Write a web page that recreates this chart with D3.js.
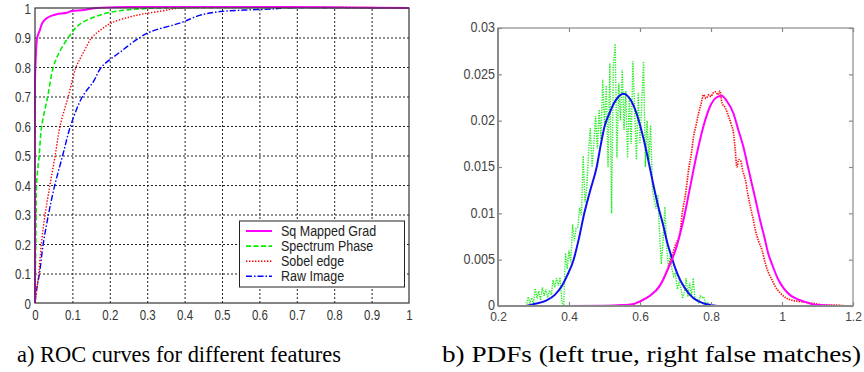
<!DOCTYPE html>
<html><head><meta charset="utf-8">
<script src="https://cdn.jsdelivr.net/npm/d3@7"></script>
<style>body{margin:0;background:#fff}svg{display:block}</style>
</head><body><svg id="c" width="864" height="372"></svg>
<script>
// ---------- DATA ----------
// ROC curves (false positive rate, true positive rate)
const rocNames = ["Sq Mapped Grad","Spectrum Phase","Sobel edge","Raw Image"];
const rocSqMapped = [[0,0],[0,0.756],[0.002,0.83],[0.006,0.9],[0.013,0.925],[0.02,0.95],[0.031,0.965],[0.045,0.974],[0.058,0.979],[0.085,0.984],[0.098,0.99],[0.13,0.993],[0.165,1],[1,1]];
const rocSpectrum = [[0,0],[0.001,0.1],[0.002,0.2],[0.003,0.3],[0.004,0.4],[0.011,0.5],[0.018,0.6],[0.034,0.7],[0.049,0.8],[0.065,0.85],[0.089,0.9],[0.107,0.93],[0.125,0.95],[0.16,0.97],[0.2,0.985],[0.26,0.995],[0.32,1],[1,1]];
const rocSobel = [[0,0],[0.005,0.05],[0.01,0.1],[0.017,0.2],[0.027,0.3],[0.04,0.4],[0.054,0.5],[0.067,0.6],[0.089,0.7],[0.11,0.8],[0.13,0.85],[0.152,0.9],[0.18,0.93],[0.205,0.95],[0.254,0.97],[0.29,0.98],[0.34,0.99],[0.39,1],[1,1]];
const rocRaw = [[0,0],[0.005,0.05],[0.012,0.1],[0.022,0.2],[0.036,0.3],[0.053,0.4],[0.074,0.5],[0.095,0.6],[0.127,0.7],[0.156,0.75],[0.178,0.8],[0.227,0.85],[0.28,0.9],[0.31,0.92],[0.39,0.95],[0.44,0.975],[0.495,0.988],[0.56,0.993],[0.64,0.997],[0.66,1],[1,1]];
const rocTicks = [0,0.1,0.2,0.3,0.4,0.5,0.6,0.7,0.8,0.9,1];

// PDFs (value, density)
const pdfXTicks = [0.2,0.4,0.6,0.8,1,1.2];
const pdfYTicks = [0,0.005,0.01,0.015,0.02,0.025,0.03];
const pdfTrueEmpirical = [[0.280,0],[0.285,0.0010],[0.290,0.0003],[0.295,0.0009],[0.300,0.0002],[0.305,0.0019],[0.310,0.0008],[0.315,0.0016],[0.320,0.0006],[0.325,0.0020],[0.330,0.0011],[0.335,0.0018],[0.340,0.0009],[0.345,0.0017],[0.350,0.0012],[0.355,0.0028],[0.360,0.0020],[0.365,0.0030],[0.370,0.0022],[0.375,0.0031],[0.380,0.0004],[0.385,0.0000],[0.390,0.0057],[0.395,0.0040],[0.400,0.0060],[0.405,0.0047],[0.410,0.0088],[0.415,0.0070],[0.420,0.0084],[0.425,0.0085],[0.430,0.0106],[0.435,0.0098],[0.440,0.0162],[0.445,0.0112],[0.450,0.0128],[0.455,0.0165],[0.460,0.0192],[0.465,0.0150],[0.470,0.0176],[0.475,0.0205],[0.480,0.0170],[0.485,0.0212],[0.490,0.0180],[0.495,0.0244],[0.500,0.0196],[0.505,0.0238],[0.510,0.0150],[0.515,0.0262],[0.520,0.0100],[0.525,0.0258],[0.530,0.0283],[0.535,0.0160],[0.540,0.0240],[0.545,0.0200],[0.550,0.0255],[0.555,0.0190],[0.560,0.0232],[0.565,0.0160],[0.570,0.0225],[0.575,0.0175],[0.580,0.0264],[0.585,0.0210],[0.590,0.0158],[0.595,0.0230],[0.600,0.0175],[0.605,0.0220],[0.610,0.0264],[0.615,0.0150],[0.620,0.0200],[0.625,0.0157],[0.630,0.0195],[0.635,0.0126],[0.640,0.0115],[0.645,0.0105],[0.650,0.0120],[0.655,0.0080],[0.660,0.0045],[0.665,0.0070],[0.670,0.0107],[0.675,0.0065],[0.680,0.0042],[0.685,0.0055],[0.690,0.0040],[0.695,0.0032],[0.700,0.0036],[0.705,0.0018],[0.710,0.0025],[0.715,0.0020],[0.720,0.0008],[0.725,0.0015],[0.730,0.0030],[0.735,0.0010],[0.740,0.0025],[0.745,0.0012],[0.750,0.0030],[0.755,0.0006],[0.760,0.0008],[0.765,0.0004],[0.770,0.0011],[0.775,0.0009],[0.780,0.0010],[0.785,0.0002],[0.790,0.0004],[0.795,0.0001],[0.800,0]];
const pdfFalseEmpirical = [[0.28,0],[0.40,0],[0.50,0],[0.55,0.0001],[0.58,0.0002],[0.60,0.0005],[0.62,0.0009],[0.64,0.0015],[0.656,0.0022],[0.67,0.0032],[0.685,0.0048],[0.70,0.0066],[0.713,0.0080],[0.719,0.0100],[0.728,0.0120],[0.738,0.0150],[0.745,0.0165],[0.751,0.0183],[0.758,0.0195],[0.765,0.0208],[0.772,0.0218],[0.779,0.0228],[0.786,0.0224],[0.794,0.0228],[0.80,0.0226],[0.806,0.0230],[0.813,0.0231],[0.82,0.0228],[0.825,0.0232],[0.831,0.0219],[0.84,0.0214],[0.85,0.0204],[0.857,0.0196],[0.864,0.0185],[0.868,0.0170],[0.873,0.0150],[0.878,0.0158],[0.883,0.0157],[0.89,0.0145],[0.897,0.0136],[0.904,0.0120],[0.911,0.0107],[0.918,0.0095],[0.925,0.0082],[0.934,0.0070],[0.944,0.0060],[0.953,0.0046],[0.963,0.0035],[0.972,0.0028],[0.981,0.0021],[0.995,0.0014],[1.01,0.0009],[1.03,0.0006],[1.048,0.0005],[1.065,0.0004],[1.085,0.0003],[1.10,0.0002],[1.12,0.0001],[1.15,0.0001],[1.18,0]];
const pdfTrueFit = [[0.28,0],[0.30,0.0002],[0.337,0.0006],[0.36,0.0012],[0.379,0.0021],[0.395,0.0033],[0.413,0.0050],[0.428,0.0073],[0.443,0.0100],[0.46,0.0125],[0.478,0.0150],[0.49,0.0175],[0.501,0.0195],[0.514,0.0208],[0.527,0.0219],[0.54,0.0226],[0.553,0.0229],[0.567,0.0226],[0.581,0.0217],[0.595,0.0202],[0.609,0.0182],[0.623,0.0158],[0.637,0.0132],[0.651,0.0108],[0.666,0.0086],[0.677,0.0068],[0.689,0.0053],[0.70,0.0040],[0.713,0.0028],[0.727,0.0019],[0.741,0.0012],[0.76,0.0006],[0.778,0.0003],[0.80,0.0001],[0.82,0],[1.15,0]];
const pdfFalseFit = [[0.28,0],[0.40,0],[0.50,0.00003],[0.55,0.0001],[0.58,0.0002],[0.60,0.0005],[0.628,0.0011],[0.656,0.0022],[0.675,0.0037],[0.689,0.0049],[0.703,0.0064],[0.713,0.0078],[0.722,0.0092],[0.741,0.0128],[0.76,0.0164],[0.778,0.0193],[0.797,0.0215],[0.815,0.0225],[0.83,0.0227],[0.845,0.0221],[0.863,0.0208],[0.877,0.0190],[0.891,0.0172],[0.903,0.0152],[0.915,0.0132],[0.927,0.0112],[0.938,0.0093],[0.95,0.0075],[0.961,0.0057],[0.975,0.0042],[0.99,0.0028],[1.005,0.0019],[1.022,0.0012],[1.04,0.0008],[1.06,0.0005],[1.085,0.0002],[1.107,0.0001],[1.14,0.00003],[1.18,0]];

const captionA = "a) ROC curves for different features";
const captionB = "b) PDFs (left true, right false matches)";

// ---------- DRAW ----------
const svg = d3.select("#c");
const xL = d3.scaleLinear().domain([0,1]).range([35,409]);
const yL = d3.scaleLinear().domain([0,1]).range([303,8]);
const xR = d3.scaleLinear().domain([0.2,1.2]).range([498,853]);
const yR = d3.scaleLinear().domain([0,0.03]).range([306,28]);

function relabel(g, anchor, dx, dy, sy, size, color) {
  g.selectAll(".tick text")
    .attr("x", null).attr("y", null).attr("dy", null)
    .attr("text-anchor", anchor)
    .attr("transform", `translate(${dx},${dy}) scale(1,${sy})`)
    .style("font-family", "'Liberation Sans', Arial, sans-serif")
    .style("font-size", size + "px")
    .attr("fill", color);
  g.select(".domain").remove();
}

// ---- Left panel: ROC ----
const L = svg.append("g");
const gridDash = "2,2";
L.append("g").attr("transform","translate(0,303)")
  .call(d3.axisBottom(xL).tickValues(rocTicks.slice(1,-1)).tickSize(-295).tickFormat(""))
  .call(g=>{g.select(".domain").remove(); g.selectAll("line").attr("stroke","#222").attr("stroke-dasharray",gridDash).attr("stroke-width",1);});
L.append("g").attr("transform","translate(35,0)")
  .call(d3.axisLeft(yL).tickValues(rocTicks.slice(1,-1)).tickSize(-374).tickFormat(""))
  .call(g=>{g.select(".domain").remove(); g.selectAll("line").attr("stroke","#222").attr("stroke-dasharray",gridDash).attr("stroke-width",1);});

const lineL = d3.line().x(d=>xL(d[0])).y(d=>yL(d[1])).curve(d3.curveCatmullRom.alpha(0.5));
L.append("clipPath").attr("id","clipL").append("rect").attr("x",34).attr("y",6).attr("width",377).attr("height",299);
const rocStyles = [
  {data: rocRaw, color:"#0000ff", dash:"6,2,1.5,2", w:1.4},
  {data: rocSobel, color:"#ff0000", dash:"1.4,1.6", w:1.4},
  {data: rocSpectrum, color:"#00ee00", dash:"5,2.5", w:1.6},
  {data: rocSqMapped, color:"#ff00ff", dash:null, w:2}
];
const curvesL = L.append("g").attr("clip-path","url(#clipL)");
rocStyles.forEach(s=>{
  curvesL.append("path").attr("d", lineL(s.data)).attr("fill","none")
    .attr("stroke", s.color).attr("stroke-width", s.w)
    .attr("stroke-dasharray", s.dash);
});
L.append("rect").attr("x",xL(0)).attr("y",yL(1)).attr("width",xL(1)-xL(0)).attr("height",yL(0)-yL(1))
  .attr("fill","none").attr("stroke","#333").attr("stroke-width",1.2);
L.append("g").attr("transform","translate(0,303)")
  .call(d3.axisBottom(xL).tickValues(rocTicks).tickSize(0).tickFormat(d3.format("")))
  .call(g=>relabel(g,"middle",0,17,1.25,11.5,"#333"));
L.append("g").attr("transform","translate(35,0)")
  .call(d3.axisLeft(yL).tickValues(rocTicks).tickSize(0).tickFormat(d3.format("")))
  .call(g=>relabel(g,"end",-4,5,1.25,11.5,"#333"));

// legend
const leg = L.append("g");
leg.append("rect").attr("x",239.5).attr("y",221).attr("width",165).attr("height",66)
  .attr("fill","#fff").attr("stroke","#222").attr("stroke-width",1);
const legOrder = [rocStyles[3], rocStyles[2], rocStyles[1], rocStyles[0]];
legOrder.forEach((s,i)=>{
  const y = 231 + i*15.1;
  leg.append("line").attr("x1",246).attr("x2",272).attr("y1",y).attr("y2",y)
    .attr("stroke",s.color).attr("stroke-width",s.w).attr("stroke-dasharray",s.dash);
  leg.append("text").attr("transform",`translate(281,${y+4.6}) scale(1,1.1)`)
    .style("font-family","'Liberation Sans', Arial, sans-serif").style("font-size","12.5px")
    .attr("fill","#222").text(rocNames[i]);
});

// ---- Right panel: PDFs ----
const R = svg.append("g");
const lineR = d3.line().x(d=>xR(d[0])).y(d=>yR(d[1]));
const smoothR = d3.line().x(d=>xR(d[0])).y(d=>yR(d[1])).curve(d3.curveMonotoneX);
R.append("path").attr("d", lineR(pdfTrueEmpirical)).attr("fill","none")
  .attr("stroke","#22ee22").attr("stroke-width",1.4).attr("stroke-dasharray","1.3,1.2");
R.append("path").attr("d", smoothR(pdfFalseEmpirical)).attr("fill","none")
  .attr("stroke","#ff1111").attr("stroke-width",1.7).attr("stroke-dasharray","1.4,1.1");
R.append("path").attr("d", smoothR(pdfTrueFit)).attr("fill","none")
  .attr("stroke","#1010ee").attr("stroke-width",2);
R.append("path").attr("d", smoothR(pdfFalseFit)).attr("fill","none")
  .attr("stroke","#ff00ff").attr("stroke-width",2);

const axCol = "#8a8a8a";
R.append("rect").attr("x",xR(0.2)).attr("y",yR(0.03)).attr("width",xR(1.2)-xR(0.2)).attr("height",yR(0)-yR(0.03))
  .attr("fill","none").attr("stroke",axCol).attr("stroke-width",1.2);
R.append("line").attr("x1",xR(0.2)).attr("x2",xR(1.2)).attr("y1",yR(0)).attr("y2",yR(0)).attr("stroke",axCol).attr("stroke-width",2);
R.append("line").attr("x1",xR(0.2)).attr("x2",xR(0.2)).attr("y1",yR(0)).attr("y2",yR(0.03)).attr("stroke",axCol).attr("stroke-width",2);
function tickStyle(g){ g.select(".domain").remove(); g.selectAll("line").attr("stroke",axCol).attr("stroke-width",1.2); }
R.append("g").attr("transform",`translate(0,${yR(0)})`).call(d3.axisBottom(xR).tickValues(pdfXTicks).tickSize(-4).tickFormat("")).call(tickStyle);
R.append("g").attr("transform",`translate(0,${yR(0.03)})`).call(d3.axisTop(xR).tickValues(pdfXTicks).tickSize(-4).tickFormat("")).call(tickStyle);
R.append("g").attr("transform",`translate(${xR(0.2)},0)`).call(d3.axisLeft(yR).tickValues(pdfYTicks).tickSize(-4).tickFormat("")).call(tickStyle);
R.append("g").attr("transform",`translate(${xR(1.2)},0)`).call(d3.axisRight(yR).tickValues(pdfYTicks).tickSize(-4).tickFormat("")).call(tickStyle);
R.append("g").attr("transform",`translate(0,${yR(0)})`)
  .call(d3.axisBottom(xR).tickValues(pdfXTicks).tickSize(0).tickFormat(d3.format("")))
  .call(g=>{relabel(g,"middle",0,14.5,1.05,12,"#444"); g.selectAll("line").remove();});
R.append("g").attr("transform",`translate(${xR(0.2)},0)`)
  .call(d3.axisLeft(yR).tickValues(pdfYTicks).tickSize(0).tickFormat(d3.format("")))
  .call(g=>{relabel(g,"end",-3,3.8,1.1,12.6,"#444"); g.selectAll("line").remove();});

// captions
svg.append("text").attr("transform","translate(17,362) scale(1,1.08)")
  .attr("textLength",324).attr("lengthAdjust","spacingAndGlyphs")
  .style("font-family","'Liberation Serif','Times New Roman',serif").style("font-size","22px")
  .attr("fill","#000").text(captionA);
svg.append("text").attr("transform","translate(442,362) scale(1,1.08)")
  .attr("textLength",419).attr("lengthAdjust","spacingAndGlyphs")
  .style("font-family","'Liberation Serif','Times New Roman',serif").style("font-size","22px")
  .attr("fill","#000").text(captionB);
</script>
</body></html>
